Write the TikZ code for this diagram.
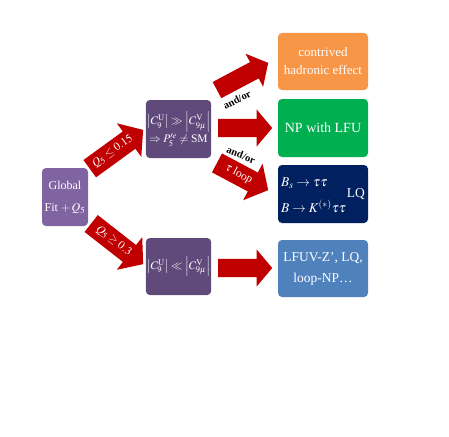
\documentclass[tikz,border=0pt]{standalone}
\usepackage{mathptmx}
\usepackage{fontspec}
\setmainfont{Liberation Serif}
\usetikzlibrary{shapes.arrows}
\definecolor{arrowred}{HTML}{C00000}
\definecolor{boxorange}{HTML}{F79646}
\definecolor{boxgreen}{HTML}{00B050}
\definecolor{boxnavy}{HTML}{002060}
\definecolor{boxblue}{HTML}{4F81BD}
\definecolor{purplelight}{HTML}{8064A2}
\definecolor{purpledark}{HTML}{604A7B}
\tikzset{
  box/.style={rounded corners=4pt, draw=none, text=white, align=center, inner sep=1pt},
  bigarrow/.style={single arrow, fill=arrowred, draw=none, text=white, anchor=tail,
    single arrow head extend=9.5pt, single arrow tip angle=100,
    text height=8pt, text depth=3pt, inner ysep=3.5pt, inner xsep=1pt,
    font=\fontsize{11.5}{12}\selectfont},
  thickarrow/.style={bigarrow, inner ysep=5pt, single arrow head extend=10pt},
  labeltext/.style={font=\fontsize{10.5}{12}\selectfont\bfseries, inner sep=0pt},
}
\begin{document}
\begin{tikzpicture}[x=1pt,y=-1pt]
\useasboundingbox (0,0) rectangle (449,436);
% boxes
\node[box, fill=purplelight, minimum width=46pt, minimum height=58pt,
  font=\fontsize{12}{22}\selectfont] (global) at (65,197) {Global\\Fit $+\,Q_5$};
\node[box, fill=purpledark, minimum width=63pt, minimum height=58pt,
  font=\fontsize{11.5}{18}\selectfont] (upper) at (178.5,129)
  {$\left|C_9^{\mathrm{U}}\right|\gg\left|C_{9\mu}^{\mathrm{V}}\right|$\\$\Rightarrow P_5^{\prime e}\neq{}$SM};
\node[box, fill=purpledark, minimum width=63pt, minimum height=57pt,
  font=\fontsize{11.5}{15}\selectfont] (lower) at (178.5,266.5)
  {$\left|C_9^{\mathrm{U}}\right|\ll\left|C_{9\mu}^{\mathrm{V}}\right|$};
\node[box, fill=boxorange, minimum width=90pt, minimum height=57pt,
  font=\fontsize{13}{18}\selectfont] (orange) at (323,61.5) {contrived\\hadronic effect};
\node[box, fill=boxgreen, minimum width=90pt, minimum height=58pt,
  font=\fontsize{14}{16}\selectfont] (green) at (323,128) {NP with LFU};
\node[box, fill=boxnavy, minimum width=90pt, minimum height=58pt,
  font=\fontsize{13.5}{15}\selectfont] (navy) at (323,194)
  {$\renewcommand{\arraystretch}{1.75}\begin{array}{@{}l@{}}B_s\to\tau\tau\\ B\to K^{(*)}\tau\tau\end{array}$\hspace{1pt}LQ};
\node[box, fill=boxblue, minimum width=90pt, minimum height=57pt,
  font=\fontsize{13.5}{21}\selectfont] (blue) at (323,268.5) {LFUV-Z’, LQ,\\loop-NP…};
% block arrows
\node[thickarrow, minimum height=66pt, rotate=36] (a1) at (89.6,168.8) {$Q_5\leq 0.15$};
\node[thickarrow, minimum height=66pt, rotate=-38] (a2) at (91,223.4) {$Q_5\geq 0.3$};
\node[bigarrow, minimum height=58pt, rotate=28] (a3) at (216.8,90.2) {};
\node[bigarrow, minimum height=54pt] (a4) at (218,128) {};
\node[thickarrow, minimum height=58pt, rotate=-28] (a5) at (216.8,162.8) {$\tau$ loop};
\node[bigarrow, minimum height=54pt] (a6) at (218,268) {};
% labels
\node[labeltext, rotate=27] (l1) at (237,100) {and/or};
\node[labeltext, rotate=-22] (l2) at (241,155) {and/or};
\end{tikzpicture}
\end{document}
